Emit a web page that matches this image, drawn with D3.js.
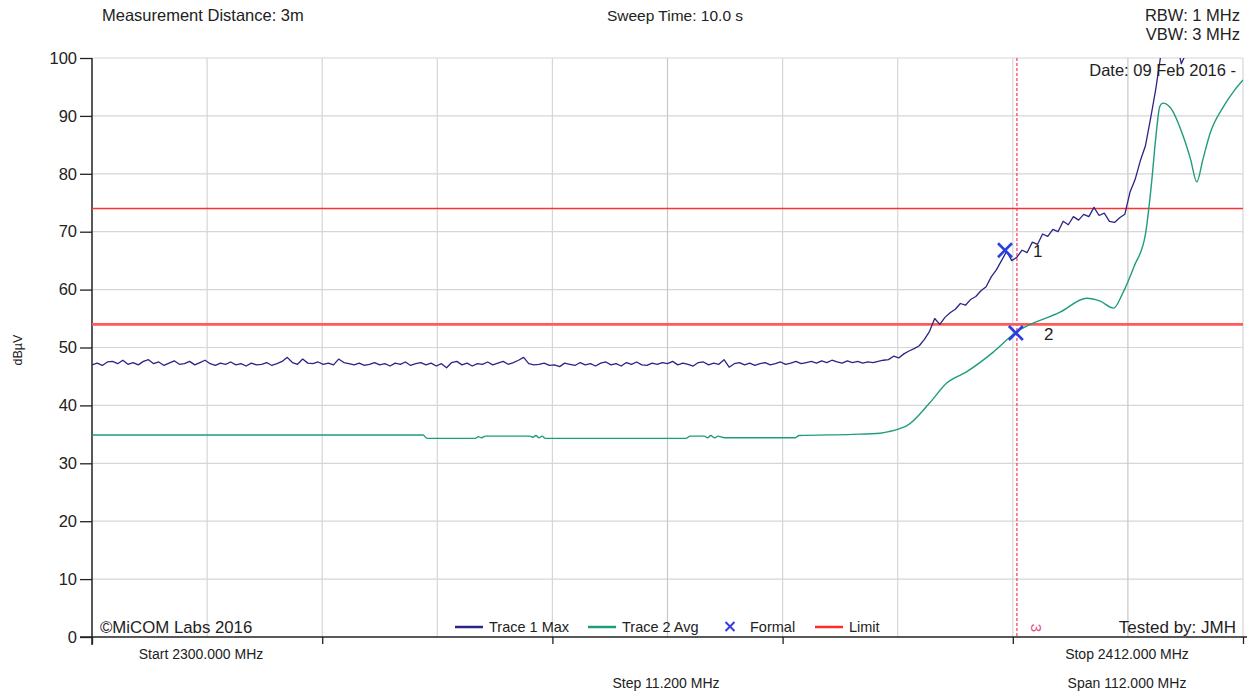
<!DOCTYPE html>
<html><head><meta charset="utf-8">
<script src="https://cdn.jsdelivr.net/npm/d3@7/dist/d3.min.js"></script>
<style>body{margin:0;background:#fff}text{font-family:"Liberation Sans",Arial,sans-serif}</style>
</head><body>
<svg id="c" width="1250" height="694"></svg>
<script>
// ---- data ----
const sweepStart = 2300, sweepStep = 0.5; // MHz, trace 1 sample spacing
const trace1 = [
47.0,47.3,46.9,47.5,47.6,47.2,47.8,47.1,47.4,47.0,47.6,47.9,47.2,47.5,46.9,47.3,47.7,47.1,47.2,47.6,
47.0,47.4,47.8,47.2,46.9,47.3,47.1,47.5,47.0,47.2,46.8,47.3,47.0,47.1,47.4,46.9,47.2,47.6,48.3,47.4,
47.1,48.0,47.3,47.2,47.5,47.1,47.3,47.0,48.0,47.4,47.2,47.0,47.3,46.9,47.1,47.4,47.0,47.2,46.8,47.3,
47.1,47.5,46.9,47.2,47.4,47.0,47.3,46.8,47.2,46.5,47.4,47.6,47.0,47.3,46.8,47.2,47.1,47.5,47.0,47.3,
47.6,47.1,47.4,47.8,48.3,47.2,47.0,47.1,47.3,46.9,47.0,46.7,47.3,47.1,46.9,47.4,47.0,47.2,46.8,47.3,
47.5,47.0,47.2,46.8,47.4,47.1,47.5,47.0,46.9,47.3,47.1,47.4,47.2,47.6,47.0,47.3,47.1,46.8,47.4,47.5,
47.0,47.3,47.1,47.9,46.6,47.2,47.4,47.0,47.3,46.9,47.2,47.4,47.0,47.2,47.5,47.1,47.3,47.6,47.2,47.4,
47.6,47.3,47.7,47.4,47.8,47.5,47.3,47.7,47.4,47.6,47.3,47.5,47.4,47.6,47.8,
47.9,48.5,48.2,48.9,49.4,49.8,50.3,51.4,52.8,55.0,54.0,55.2,56.0,56.6,57.6,57.3,58.3,58.8,59.8,60.5,
62.2,63.4,65.0,66.6,65.0,65.6,66.8,66.4,68.2,67.8,69.6,69.2,70.4,70.0,71.8,71.2,72.6,72.0,73.0,72.6,
74.2,72.8,73.2,71.8,71.6,72.4,73.0,76.8,79.0,82.2,84.8,89.5,94.5,100.5,103,104,103,99.0,101,103,
104,105,105,106,106,107,107,107,108,108
];
const trace2Freq = [2300,2332.2,2332.6,2337.3,2337.6,2337.9,2338.3,2342.6,2342.9,2343.2,2343.5,2343.8,2344.1,
  2357.8,2358.2,2359.6,2359.9,2360.2,2360.6,2360.9,2361.3,2361.8,2368.4,2368.8,2374,2376.7,2377.6,2378.6,2379.3,
  2381.5,2383.2,2385.1,2387.7,2389.8,2394.2,2396.8,2398.1,2399.4,2400.3,2401.4,2402.5,2403.1,2403.5,2403.9,2404.2,
  2404.9,2406.2,2406.9,2407.5,2408.1,2408.8,2410.1,2411.2,2412];
const trace2Val = [34.9,34.9,34.3,34.3,34.6,34.4,34.7,34.7,34.5,34.8,34.4,34.7,34.3,
  34.3,34.7,34.7,34.4,34.8,34.4,34.7,34.5,34.4,34.4,34.8,35.0,35.2,35.5,36.0,36.5,
  40.4,43.9,45.8,49.2,52.5,56.1,58.5,58.0,56.8,59.4,64.0,69.5,78.4,86.0,91.6,92.2,
  91.5,86.4,82.5,78.6,82.5,87.0,91.6,94.5,96.2];
const limits = [74, 54];
const markers = [{id:"1", f:2388.84, v:66.8}, {id:"2", f:2389.9, v:52.5}];
const bandEdge = 2390;
const yTicks = [0,10,20,30,40,50,60,70,80,90,100];
const xGrid = [2300,2311.2,2322.4,2333.6,2344.8,2356,2367.2,2378.4,2389.6,2400.8,2412];
const xTicks = [2300,2322.4,2344.8,2367.2,2389.6,2412];

// ---- drawing ----
const svg = d3.select("#c");
const L = 92, R = 1243, T = 58, B = 637;
const x = d3.scaleLinear().domain([2300, 2412]).range([L, R]);
const y = d3.scaleLinear().domain([0, 100]).range([B, T]);
const navy = "#2b2585", teal = "#1f9c7e", red = "#ff2a2a";

svg.append("defs").append("clipPath").attr("id","clip")
  .append("rect").attr("x",L).attr("y",T).attr("width",R-L).attr("height",B-T);

// grid
svg.append("g").selectAll("line").data(yTicks.filter(d=>d>0)).join("line")
  .attr("x1",L).attr("x2",R).attr("y1",d=>y(d)).attr("y2",d=>y(d))
  .attr("stroke","#d6d6d6").attr("stroke-width",1.2);
svg.append("g").selectAll("line").data(xGrid.slice(1)).join("line")
  .attr("x1",d=>x(d)).attr("x2",d=>x(d)).attr("y1",T).attr("y2",B)
  .attr("stroke",(d,i)=> (i===4||i===8) ? "#c8c8c8" : "#d6d6d6").attr("stroke-width",1.2);

// y axis
const ya = svg.append("g").attr("transform",`translate(${L},0)`)
  .call(d3.axisLeft(y).tickValues(yTicks).tickSize(12).tickPadding(3));
ya.select(".domain").remove();
ya.selectAll(".tick line").attr("stroke","#222").attr("stroke-width",1.3);
ya.selectAll(".tick text").attr("font-size",16.5).attr("fill","#222")
  .attr("font-family","Liberation Sans, Arial, sans-serif");
svg.append("line").attr("x1",L).attr("x2",L).attr("y1",T).attr("y2",B+8)
  .attr("stroke","#222").attr("stroke-width",1.5);

// x axis
const xa = svg.append("g").attr("transform",`translate(0,${B})`)
  .call(d3.axisBottom(x).tickValues(xTicks).tickSize(7).tickFormat(""));
xa.select(".domain").remove();
xa.selectAll(".tick line").attr("stroke","#222").attr("stroke-width",1.3);
svg.append("line").attr("x1",L-12).attr("x2",R+4).attr("y1",B).attr("y2",B)
  .attr("stroke","#222").attr("stroke-width",1.5);

// band edge dashed line
svg.append("line").attr("x1",x(bandEdge)).attr("x2",x(bandEdge)).attr("y1",T).attr("y2",B)
  .attr("stroke","#ff3355").attr("stroke-width",1.2).attr("stroke-dasharray","3,2");
svg.append("text").attr("transform",`translate(${x(bandEdge)+19},628) rotate(90)`)
  .attr("font-size",15).attr("fill","#e0508a").attr("text-anchor","middle").attr("dy","0.35em").text("3");

// limit lines
svg.append("g").selectAll("line").data(limits).join("line")
  .attr("x1",L).attr("x2",R).attr("y1",d=>y(d)).attr("y2",d=>y(d))
  .attr("stroke",(d,i)=> i===0 ? "#ff3030" : "#ff5a5a")
  .attr("stroke-width",(d,i)=> i===0 ? 1.6 : 2.6);

// traces
const g = svg.append("g").attr("clip-path","url(#clip)");
const line1 = d3.line().x((d,i)=>x(sweepStart + i*sweepStep)).y(d=>y(d));
g.append("path").datum(trace1).attr("d",line1).attr("fill","none")
  .attr("stroke",navy).attr("stroke-width",1.3).attr("stroke-linejoin","round");
const t2 = trace2Freq.map((f,i)=>[f, trace2Val[i]]);
const line2 = d3.line().x(d=>x(d[0])).y(d=>y(d[1])).curve(d3.curveMonotoneX);
g.append("path").datum(t2).attr("d",line2).attr("fill","none")
  .attr("stroke",teal).attr("stroke-width",1.4);

// markers
const mk = svg.append("g").selectAll("g").data(markers).join("g")
  .attr("transform",d=>`translate(${x(d.f)},${y(d.v)})`);
mk.append("path").attr("d","M-7,-7L7,7M-7,7L7,-7").attr("stroke","#2a3fe0").attr("stroke-width",2.6);
mk.append("text").attr("x",28).attr("y",7).attr("font-size",17).attr("fill","#222")
  .text(d=>d.id);

// header texts
const hdr = (t,xx,yy,anchor,size)=>svg.append("text").attr("x",xx).attr("y",yy)
  .attr("text-anchor",anchor).attr("font-size",size||16).attr("fill","#222").text(t);
hdr("Measurement Distance: 3m",102,21,"start",16.5);
hdr("Sweep Time: 10.0 s",675,21,"middle",15.5);
hdr("RBW: 1 MHz",1240,21,"end",16.5);
hdr("VBW: 3 MHz",1240,40,"end",16.5);
hdr("Date: 09 Feb 2016 -",1236,76,"end",16.5);

// y label
svg.append("text").attr("transform","translate(22,350) rotate(-90)").attr("text-anchor","middle")
  .attr("font-size",12.5).attr("fill","#222").text("dBµV");

// bottom labels
hdr("Start 2300.000 MHz",201,659,"middle",14);
hdr("Stop 2412.000 MHz",1127,659,"middle",14);
hdr("Step 11.200 MHz",666,688,"middle",14);
hdr("Span 112.000 MHz",1127,688,"middle",14);

// legend
hdr("©MiCOM Labs 2016",100,633,"start",16.8);
hdr("Tested by: JMH",1236,633,"end",17);
const lg = svg.append("g");
const legendItems = [
  {t:"Trace 1 Max", c:navy, k:"line", x0:455},
  {t:"Trace 2 Avg", c:teal, k:"line", x0:588},
  {t:"Formal", c:"#3a3ae0", k:"x", x0:730},
  {t:"Limit", c:red, k:"line", x0:815}
];
legendItems.forEach(d=>{
  if (d.k==="line") {
    lg.append("line").attr("x1",d.x0).attr("x2",d.x0+28).attr("y1",627).attr("y2",627)
      .attr("stroke",d.c).attr("stroke-width",2.5);
    lg.append("text").attr("x",d.x0+34).attr("y",632).attr("font-size",14.5).attr("fill","#222").text(d.t);
  } else {
    lg.append("path").attr("d",`M${d.x0-4.5},${622}L${d.x0+4.5},${631}M${d.x0-4.5},${631}L${d.x0+4.5},${622}`)
      .attr("stroke",d.c).attr("stroke-width",2);
    lg.append("text").attr("x",d.x0+20).attr("y",632).attr("font-size",14.5).attr("fill","#222").text(d.t);
  }
});
</script>
</body></html>
